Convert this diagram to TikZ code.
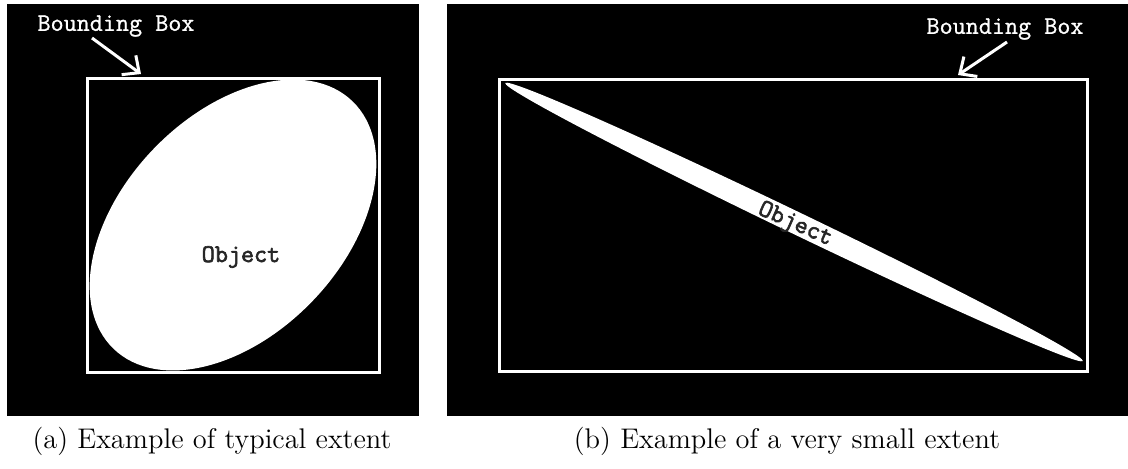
\documentclass[tikz,border=0pt]{standalone}
\usepackage{fontspec}
\newfontfamily\labelmono[FakeBold=1]{Latin Modern Mono}
\newfontfamily\heavymono[FakeBold=2.5]{Latin Modern Mono}
\usepackage{tikz}
\usetikzlibrary{arrows.meta,shapes.geometric}

\begin{document}
\begin{tikzpicture}[x=0.5pt, y=-0.5pt,
  panel/.style={fill=black},
  bbox/.style={draw=white, line width=1.5pt, inner sep=0pt, outer sep=0pt},
  blob/.style={ellipse, fill=white, inner sep=0pt, outer sep=0pt},
  tag/.style={text=white, font=\labelmono\fontsize{12.7}{15}\selectfont, inner sep=0pt},
  obj/.style={text=black!85, font=\heavymono\fontsize{12.7}{15}\selectfont, inner sep=0pt},
  pointer/.style={draw=white, line width=1.5pt, -{Straight Barb[length=6.5pt,width=12pt]}},
  subcap/.style={font=\fontsize{14.2}{17}\selectfont, inner sep=0pt}
]
\useasboundingbox[fill=white] (0,0) rectangle (1128,468);
\fill[panel] (7,4) rectangle (419,416);
\fill[panel] (447,4) rectangle (1128,416);

\node[blob, minimum width=172pt, minimum height=110pt, rotate=46] (objA) at (233,225) {};
\node[bbox, minimum width=146pt, minimum height=147pt] (boxA) at (233,225) {};
\node[obj] (txtA) at (241,257) {Object};
\node[tag] (lblA) at (116,26) {Bounding Box};
\coordinate (tailA) at (92,38);
\coordinate (tipA) at (141,74);
\draw[pointer] (tailA) -- (tipA);

\node[blob, minimum width=320.5pt, minimum height=11pt, rotate=-25.7] (objB) at (794,222) {};
\node[bbox, minimum width=294pt, minimum height=146pt] (boxB) at (793,225) {};
\node[obj, rotate=-24] (txtB) at (795,225) {Object};
\node[tag] (lblB) at (1005,29) {Bounding Box};
\coordinate (tailB) at (1007,42);
\coordinate (tipB) at (958,75);
\draw[pointer] (tailB) -- (tipB);

\node[subcap] (capA) at (212,441) {(a) Example of typical extent};
\node[subcap] (capB) at (787,441) {(b) Example of a very small extent};
\end{tikzpicture}
\end{document}
